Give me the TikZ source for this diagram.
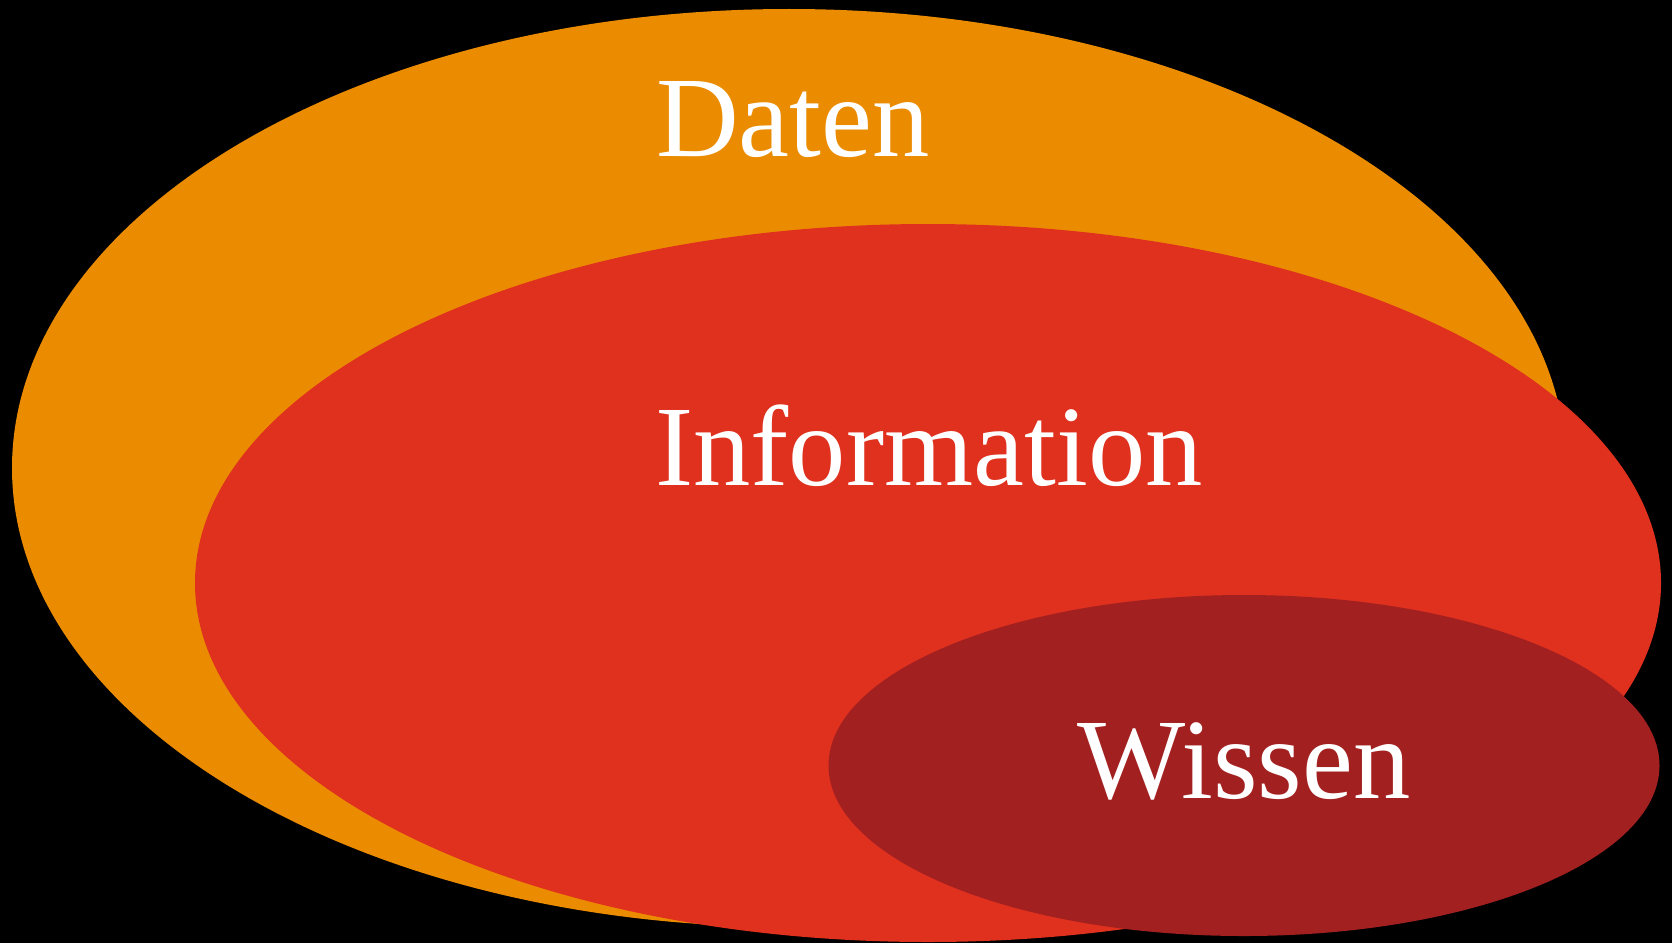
\documentclass[tikz,border=0pt]{standalone}
\usepackage{fontspec}
\setmainfont{Liberation Serif}
\usetikzlibrary{positioning}
\usetikzlibrary{shapes.geometric}
\definecolor{pwcorange}{HTML}{EB8C00}
\definecolor{pwcred}{HTML}{E0301E}
\definecolor{pwcdark}{HTML}{A32020}
\tikzset{
	blob/.style={ellipse,inner sep=0pt,draw=none},
	lbl/.style={text=white,anchor=base,inner sep=0pt,font=\fontsize{32.6}{39}\selectfont}
}

\begin{document}
\begin{tikzpicture}
	% Hintergrund
	\fill[black] (0,0) rectangle (16.72,9.43);
	\useasboundingbox (0,0) rectangle (16.72,9.43);
	%% Ellipsen
	\node[blob,fill=pwcorange,minimum width=15.54cm,minimum height=9.18cm] (daten) at (7.89,4.75) {};
	\node[blob,fill=pwcred,minimum width=14.66cm,minimum height=7.18cm] (info) at (9.28,3.60) {};
	\node[blob,fill=pwcdark,minimum width=8.31cm,minimum height=3.41cm] (wissen) at (12.44,1.775) {};
	%% Beschriftung
	\node[lbl] (tdaten) at (7.93,7.87) {Daten};
	\node[lbl] (tinfo) at (9.29,4.58) {Information};
	\node[lbl] (twissen) at (12.44,1.45) {Wissen};
\end{tikzpicture}
\end{document}
